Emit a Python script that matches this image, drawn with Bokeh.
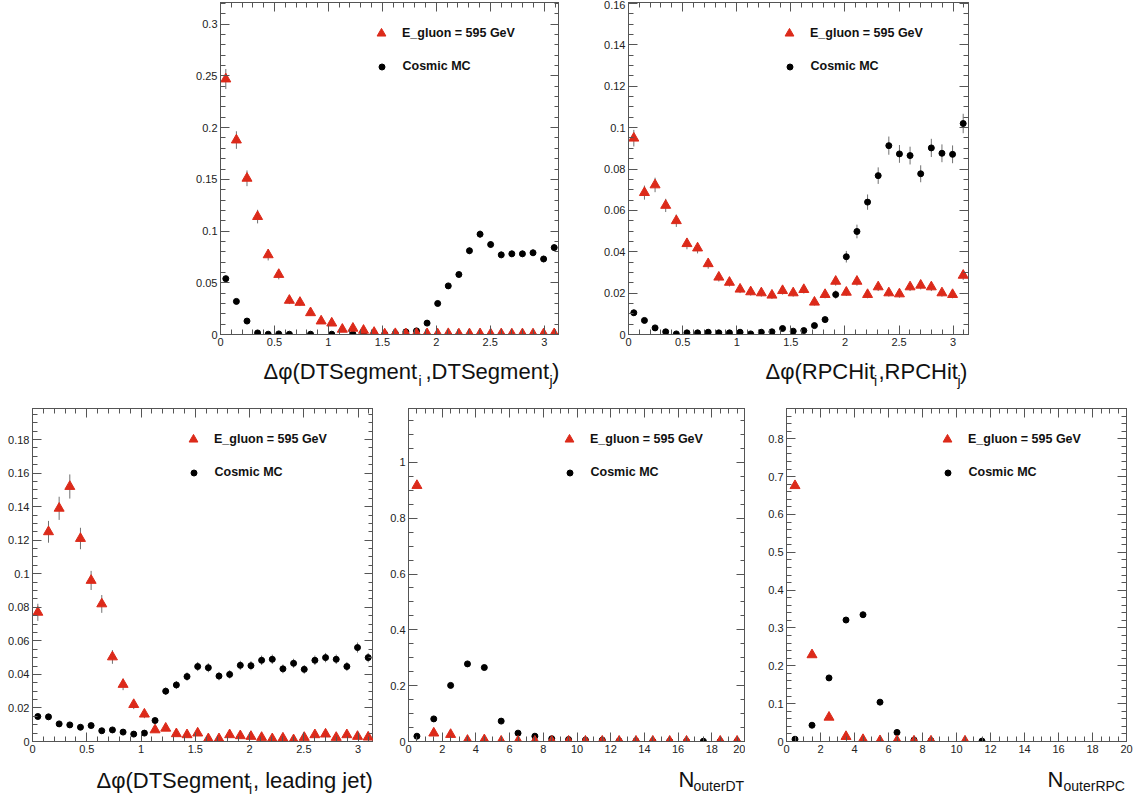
import numpy as np
from bokeh.plotting import figure
from bokeh.layouts import column, row
from bokeh.models import (Range1d, LinearAxis, SingleIntervalTicker, CustomJSTickFormatter,
                          Legend, LegendItem, Label)
from bokeh.embed import file_html
from bokeh.resources import INLINE

nan = float("nan")

# ---- binning -------------------------------------------------------------
PHI_EDGES = np.linspace(0.0, np.pi, 33)          # 32 bins over [0, pi]
PHI_CENTERS = 0.5 * (PHI_EDGES[:-1] + PHI_EDGES[1:])
N_EDGES = np.arange(0, 21)                        # 20 unit bins over [0, 20]
N_CENTERS = 0.5 * (N_EDGES[:-1] + N_EDGES[1:])

SIGNAL_LABEL = "E_gluon = 595 GeV"
COSMIC_LABEL = "Cosmic MC"

# ---- dphi(DTSegment_i, DTSegment_j) --------------------------------------
dt_dt_gluon = [0.247, 0.188, 0.151, 0.114, 0.077, 0.058, 0.033, 0.031, 0.021, 0.013, 0.011,
               0.005, 0.006, 0.004, 0.002, 0.0005, 0.0008, 0.0006, 0.0008, 0.0007, 0.0005,
               0.0008, 0.0005, 0.0006, 0.0007, 0.0005, 0.0006, 0.0005, 0.0006, 0.0005,
               0.0006, 0.0007]
dt_dt_gluon_err = [0.0097, 0.0085, 0.0076, 0.0066, 0.0054, 0.0047, 0.0036, 0.0035, 0.0028,
                   0.0022, 0.0021, 0.0014, 0.0015, 0.0012, 0.0009, 0.0004, 0.0005, 0.0005,
                   0.0005, 0.0005, 0.0004, 0.0005, 0.0004, 0.0005, 0.0005, 0.0004, 0.0005,
                   0.0004, 0.0005, 0.0004, 0.0005, 0.0005]
dt_dt_cosmic = [0.054, 0.032, 0.013, 0.0015, 0.0003, 0.0006, 0.0003, nan, 0.0003, nan, 0.0003,
                nan, 0.0003, 0.0003, 0.001, 0.0005, 0.001, 0.0025, 0.0035, 0.011, 0.030, 0.047,
                0.058, 0.081, 0.097, 0.087, 0.077, 0.078, 0.078, 0.079, 0.073, 0.084]
dt_dt_cosmic_err = [0.0027, 0.0021, 0.0013, 0.00045, 0.0002, 0.0003, 0.0002, nan, 0.0002, nan,
                    0.0002, nan, 0.0002, 0.0002, 0.0004, 0.0003, 0.0004, 0.0006, 0.0007,
                    0.0012, 0.0020, 0.0025, 0.0028, 0.0033, 0.0036, 0.0034, 0.0032, 0.0032,
                    0.0032, 0.0032, 0.0031, 0.0033]

# ---- dphi(RPCHit_i, RPCHit_j) --------------------------------------------
rpc_rpc_gluon = [0.0949, 0.0686, 0.0723, 0.0624, 0.055, 0.0439, 0.0418, 0.0342, 0.0277, 0.0252,
                 0.0219, 0.0206, 0.0201, 0.019, 0.0212, 0.0201, 0.0217, 0.0156, 0.0193, 0.0257,
                 0.0204, 0.0257, 0.0193, 0.023, 0.0201, 0.0196, 0.023, 0.0238, 0.023, 0.0201,
                 0.0193, 0.0286]
rpc_rpc_gluon_err = [0.0040, 0.0034, 0.0035, 0.0032, 0.0030, 0.0027, 0.0026, 0.0024, 0.0021,
                     0.0020, 0.0019, 0.0018, 0.0018, 0.0018, 0.0019, 0.0018, 0.0019, 0.0016,
                     0.0018, 0.0021, 0.0018, 0.0021, 0.0018, 0.0020, 0.0018, 0.0018, 0.0020,
                     0.0020, 0.0020, 0.0018, 0.0018, 0.0022]
rpc_rpc_cosmic = [0.0105, 0.0068, 0.0032, 0.0013, 0.0003, 0.0008, 0.0008, 0.0011, 0.0008, 0.0008,
                  0.0011, 0.0003, 0.0011, 0.0013, 0.0029, 0.0016, 0.0019, 0.0043, 0.0072, 0.0193,
                  0.0376, 0.0498, 0.064, 0.0768, 0.0913, 0.0873, 0.0865, 0.0777, 0.0902, 0.0876,
                  0.0871, 0.102]
rpc_rpc_cosmic_err = [0.0015, 0.0012, 0.0008, 0.0005, 0.0003, 0.0004, 0.0004, 0.0005, 0.0004,
                      0.0004, 0.0005, 0.0003, 0.0005, 0.0005, 0.0008, 0.0006, 0.0006, 0.0010,
                      0.0012, 0.0020, 0.0028, 0.0033, 0.0037, 0.0040, 0.0044, 0.0043, 0.0043,
                      0.0041, 0.0044, 0.0043, 0.0043, 0.0047]

# ---- dphi(DTSegment_i, leading jet) --------------------------------------
dt_jet_gluon = [0.077, 0.125, 0.139, 0.152, 0.121, 0.096, 0.082, 0.0504, 0.034, 0.022, 0.0163,
                0.0069, 0.0079, 0.0046, 0.004, 0.005, 0.0016, 0.0016, 0.004, 0.0034, 0.003,
                0.0024, 0.0016, 0.002, 0.001, 0.0024, 0.004, 0.0044, 0.0024, 0.004, 0.003, 0.0026]
dt_jet_gluon_err = [0.0051, 0.0065, 0.0069, 0.0072, 0.0064, 0.0057, 0.0053, 0.0041, 0.0034,
                    0.0027, 0.0024, 0.0015, 0.0016, 0.0013, 0.0012, 0.0013, 0.0007, 0.0007,
                    0.0012, 0.0011, 0.0010, 0.0009, 0.0007, 0.0008, 0.0006, 0.0009, 0.0012,
                    0.0012, 0.0009, 0.0012, 0.0010, 0.0009]
dt_jet_cosmic = [0.0149, 0.0147, 0.0105, 0.0099, 0.0085, 0.0095, 0.0064, 0.0069, 0.0056, 0.0044,
                 0.005, 0.0125, 0.030, 0.0337, 0.0387, 0.0447, 0.044, 0.039, 0.040, 0.0454,
                 0.0452, 0.0484, 0.049, 0.0433, 0.0466, 0.043, 0.0484, 0.050, 0.049, 0.0447,
                 0.056, 0.050]
dt_jet_cosmic_err = [0.0016, 0.0015, 0.0013, 0.0013, 0.0012, 0.0012, 0.0010, 0.0011, 0.0010,
                     0.0008, 0.0009, 0.0014, 0.0022, 0.0023, 0.0025, 0.0027, 0.0027, 0.0025,
                     0.0025, 0.0027, 0.0027, 0.0028, 0.0028, 0.0026, 0.0027, 0.0026, 0.0028,
                     0.0028, 0.0028, 0.0027, 0.0030, 0.0028]

# ---- N outer DT / N outer RPC ---------------------------------------------
n_dt_gluon = [0.917, 0.030, 0.025, 0.004, 0.006, 0.001, 0.001, 0.001, 0.001, 0.001, 0.001,
              0.001, 0.001, 0.001, 0.001, 0.001, 0.001, nan, 0.001, 0.001]
n_dt_cosmic = [0.019, 0.081, 0.201, 0.278, 0.265, 0.073, 0.030, 0.019, 0.010, 0.007, 0.005,
               0.005, 0.002, 0.002, 0.001, 0.001, 0.001, 0.001, 0.001, 0.001]
n_rpc_gluon = [0.676, 0.229, 0.064, 0.013, 0.005, 0.002, 0.002, 0.001, 0.001, nan, 0.001,
               nan, nan, nan, nan, nan, nan, nan, nan, nan]
n_rpc_cosmic = [0.006, 0.043, 0.168, 0.321, 0.335, 0.104, 0.024, 0.004, 0.002, nan, nan, 0.001,
                nan, nan, nan, nan, nan, nan, nan, nan]

# ---- style ----------------------------------------------------------------
RED = "#dc2a1a"
FRAME = "#555555"
ERRC = "#707070"
FONT = "Liberation Sans"
BIG = "22px"
SUB = "14px"
TRI_SIZE = 10
DOT_SIZE = 6

TICK_FMT = "return String(Math.round(tick*10000)/10000);"
BLANK_FMT = "return '';"


def make_axis(step, minor, labelled):
    ax = LinearAxis(ticker=SingleIntervalTicker(interval=step, num_minor_ticks=minor),
                    formatter=CustomJSTickFormatter(code=TICK_FMT if labelled else BLANK_FMT))
    ax.axis_line_color = FRAME
    ax.major_tick_line_color = FRAME
    ax.minor_tick_line_color = FRAME
    ax.major_tick_in = 9
    ax.major_tick_out = 0
    ax.minor_tick_in = 5
    ax.minor_tick_out = 0
    ax.major_label_text_font = FONT
    ax.major_label_text_color = "#222222"
    ax.major_label_standoff = 3 if labelled else 0
    ax.major_label_text_font_size = "11px" if labelled else "0px"
    return ax


def make_panel(width, height, left, right, top, bottom, x_end, y_end,
               x_step, x_minor, y_step, y_minor):
    p = figure(width=width, height=height, x_range=Range1d(0, x_end), y_range=Range1d(0, y_end),
               output_backend="svg", toolbar_location=None, x_axis_type=None, y_axis_type=None,
               min_border_left=left, min_border_right=right,
               min_border_top=top, min_border_bottom=bottom)
    p.outline_line_color = FRAME
    p.background_fill_color = "white"
    p.border_fill_color = "white"
    p.add_layout(make_axis(x_step, x_minor, True), "below")
    p.add_layout(make_axis(x_step, x_minor, False), "above")
    p.add_layout(make_axis(y_step, y_minor, True), "left")
    p.add_layout(make_axis(y_step, y_minor, False), "right")
    return p


def draw_series(p, x, y, err, marker, color, size):
    y = np.asarray(y, dtype=float)
    if err is not None:
        e = np.asarray(err, dtype=float)
        p.segment(x0=x, y0=y - e, x1=x, y1=y + e, line_color=ERRC, line_width=1)
    return p.scatter(x=x, y=y, marker=marker, size=size, fill_color=color, line_color=color)


def add_key(p, renderer, label, cx, cy, glyph, standoff, frame_h):
    # a legend marker is drawn at 0.4 x the glyph box, so the box sets its size
    leg = Legend(items=[LegendItem(label=label, renderers=[renderer])],
                 location=(cx - glyph / 2, frame_h - cy - glyph / 2),
                 glyph_width=glyph, glyph_height=glyph, label_standoff=standoff,
                 label_height=10, label_width=10, padding=0, margin=0, spacing=0,
                 border_line_alpha=0, background_fill_alpha=0,
                 label_text_font=FONT, label_text_font_style="bold",
                 label_text_font_size="12.5px", label_text_color="#111111")
    p.add_layout(leg)


def add_keys(p, r_sig, r_cos, frame_h):
    add_key(p, r_sig, SIGNAL_LABEL, 161, 30.5, 22, 10, frame_h)
    add_key(p, r_cos, COSMIC_LABEL, 161, 64, 15, 14, frame_h)


def title_strip(width, height, left, right, pieces):
    """Axis title under a panel, sharing the panel's horizontal frame.

    pieces are (x from frame left, baseline from strip top, text, font size).
    """
    frame_w = width - left - right
    s = figure(width=width, height=height, x_range=Range1d(0, frame_w),
               y_range=Range1d(0, height), output_backend="svg", toolbar_location=None,
               x_axis_type=None, y_axis_type=None, min_border_left=left,
               min_border_right=right, min_border_top=0, min_border_bottom=0)
    s.outline_line_color = None
    s.background_fill_color = "white"
    s.border_fill_color = "white"
    for x, base, text, size in pieces:
        s.add_layout(Label(x=x, y=height - base, text=text, text_font=FONT,
                           text_font_size=size, text_color="#111111",
                           text_baseline="alphabetic", text_align="left"))
    return s


# ---- top row -------------------------------------------------------------
FH_TOP = 332
p1 = make_panel(559, 352, 220, 0, 2, 18, np.pi, 0.321, 0.5, 5, 0.05, 5)
c1 = draw_series(p1, PHI_CENTERS, dt_dt_cosmic, dt_dt_cosmic_err, "circle", "black", DOT_SIZE)
s1 = draw_series(p1, PHI_CENTERS, dt_dt_gluon, dt_dt_gluon_err, "triangle", RED, TRI_SIZE)
add_keys(p1, s1, c1, FH_TOP)
t1 = title_strip(559, 43, 220, 0, [(43, 19, "\u0394\u03c6(DTSegment", BIG),
                                   (198, 28, "i", SUB),
                                   (205, 19, ",DTSegment", BIG),
                                   (329, 28, "j", SUB),
                                   (331.5, 19, ")", BIG)])

p2 = make_panel(582, 352, 69, 173, 2, 18, np.pi, 0.1605, 0.5, 5, 0.02, 4)
c2 = draw_series(p2, PHI_CENTERS, rpc_rpc_cosmic, rpc_rpc_cosmic_err, "circle", "black", DOT_SIZE)
s2 = draw_series(p2, PHI_CENTERS, rpc_rpc_gluon, rpc_rpc_gluon_err, "triangle", RED, TRI_SIZE)
add_keys(p2, s2, c2, FH_TOP)
t2 = title_strip(582, 43, 69, 173, [(137, 19, "\u0394\u03c6(RPCHit", BIG),
                                    (245.5, 28, "i", SUB),
                                    (250, 19, ",RPCHit", BIG),
                                    (329, 28, "j", SUB),
                                    (331.5, 19, ")", BIG)])

# ---- bottom row ------------------------------------------------------------
FH_BOT = 333
p3 = make_panel(373, 364, 32, 0, 13, 18, np.pi, 0.1985, 0.5, 5, 0.02, 4)
c3 = draw_series(p3, PHI_CENTERS, dt_jet_cosmic, dt_jet_cosmic_err, "circle", "black", DOT_SIZE)
s3 = draw_series(p3, PHI_CENTERS, dt_jet_gluon, dt_jet_gluon_err, "triangle", RED, TRI_SIZE)
add_keys(p3, s3, c3, FH_BOT)
t3 = title_strip(373, 36, 32, 0, [(64, 21, "\u0394\u03c6(DTSegment", BIG),
                                  (216.5, 29, "i", SUB),
                                  (220.5, 21, ", leading jet)", BIG)])

p4 = make_panel(372, 364, 35, 0, 13, 18, 20, 1.193, 2, 4, 0.2, 4)
c4 = draw_series(p4, N_CENTERS, n_dt_cosmic, None, "circle", "black", DOT_SIZE)
s4 = draw_series(p4, N_CENTERS, n_dt_gluon, None, "triangle", RED, TRI_SIZE)
add_keys(p4, s4, c4, FH_BOT)
t4 = title_strip(372, 36, 35, 0, [(270, 20, "N", BIG), (285, 26, "outerDT", SUB)])

p5 = make_panel(396, 364, 41, 15, 13, 18, 20, 0.88, 2, 4, 0.1, 5)
c5 = draw_series(p5, N_CENTERS, n_rpc_cosmic, None, "circle", "black", DOT_SIZE)
s5 = draw_series(p5, N_CENTERS, n_rpc_gluon, None, "triangle", RED, TRI_SIZE)
add_keys(p5, s5, c5, FH_BOT)
t5 = title_strip(396, 36, 41, 15, [(261, 20, "N", BIG), (277, 26, "outerRPC", SUB)])

page = column(
    row(column(p1, t1, spacing=0), column(p2, t2, spacing=0), spacing=0),
    row(column(p3, t3, spacing=0), column(p4, t4, spacing=0), column(p5, t5, spacing=0),
        spacing=0),
    spacing=0)
open("out.html", "w").write(file_html(page, INLINE, title="Muon-system variables"))
